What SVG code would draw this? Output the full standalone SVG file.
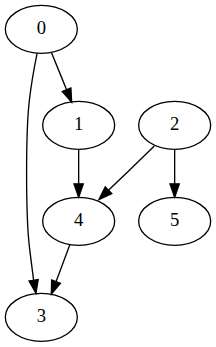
<svg xmlns="http://www.w3.org/2000/svg" width="216" height="347" viewBox="0 0 216 347">
<style>
.node ellipse{fill:none;stroke:#000;stroke-width:1}
.node text{font-family:"Liberation Serif","Times New Roman",serif;font-size:14px;text-anchor:middle;fill:#000}
.edge path{fill:none;stroke:#000;stroke-width:1}
.edge polygon{fill:#000;stroke:#000;stroke-width:1}
</style>
<rect width="216" height="347" fill="#fff"/>
<g transform="scale(1.33333) translate(4 256)">
<g id="edges">
<g class="edge" id="e0_1"><path d="M34.64,-216.41C38.04,-208.08 42.13,-198.06 45.94,-188.74"/><polygon points="49.18,-190.06 49.72,-179.48 42.7,-187.42"/></g>
<g class="edge" id="e0_3"><path d="M23.82,-216.02C21.73,-205.87 19.38,-192.6 18,-180.6C15.26,-156.76 15.26,-95.24 18,-71.4C19.1,-62 20.2,-54 21.22,-45.79"/><polygon points="24.66,-46.41 22.98,-36.05 17.78,-45.17"/></g>
<g class="edge" id="e1_4"><path d="M55,-143.7V-118.1"/><polygon points="58.5,-118.1 55,-108.1 51.5,-118.1"/></g>
<g class="edge" id="e2_4"><path d="M111.73,-146.5C101.6,-136.64 88.32,-123.76 77.37,-113.27"/><polygon points="79.81,-110.76 70.2,-106.3 74.93,-115.78"/></g>
<g class="edge" id="e2_5"><path d="M127,-143.7V-118.1"/><polygon points="130.5,-118.1 127,-108.1 123.5,-118.1"/></g>
<g class="edge" id="e4_3"><path d="M48.36,-72.41C45.26,-64.08 41.51,-54.06 38.01,-44.74"/><polygon points="41.29,-43.51 34.51,-35.37 34.73,-45.97"/></g>
</g>
<g class="node" id="n0"><ellipse cx="27" cy="-234" rx="27" ry="18"/><text x="27" y="-230.3">0</text></g>
<g class="node" id="n1"><ellipse cx="55" cy="-162" rx="27" ry="18"/><text x="55" y="-158.3">1</text></g>
<g class="node" id="n2"><ellipse cx="127" cy="-162" rx="27" ry="18"/><text x="127" y="-158.3">2</text></g>
<g class="node" id="n4"><ellipse cx="55" cy="-90" rx="27" ry="18"/><text x="55" y="-86.3">4</text></g>
<g class="node" id="n5"><ellipse cx="127" cy="-90" rx="27" ry="18"/><text x="127" y="-86.3">5</text></g>
<g class="node" id="n3"><ellipse cx="27" cy="-18" rx="27" ry="18"/><text x="27" y="-14.3">3</text></g>
</g>
</svg>
